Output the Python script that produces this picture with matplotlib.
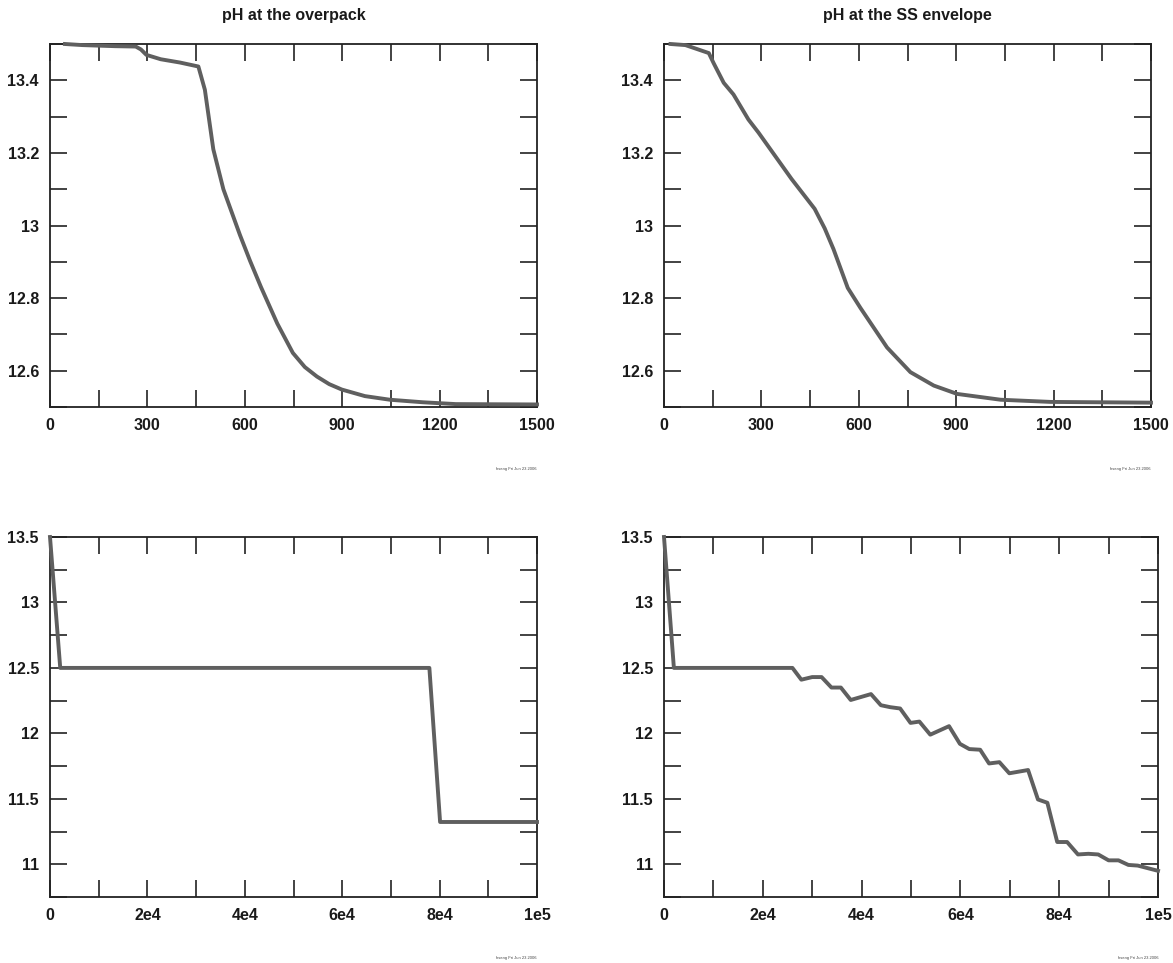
import matplotlib
matplotlib.use("Agg")
import matplotlib.pyplot as plt
import numpy as np

plt.rcParams['font.family'] = ['Liberation Sans', 'DejaVu Sans']

# ---- data ----
titles = ["pH at the overpack", "pH at the SS envelope"]

t_over = [46, 100, 200, 264, 280, 297, 341, 400, 457, 477, 503, 534, 585, 616, 650, 700,
          748, 785, 822, 860, 899, 970, 1047, 1149, 1250, 1500]
ph_over = [13.50, 13.497, 13.494, 13.493, 13.485, 13.47, 13.458, 13.449, 13.438, 13.374,
           13.21, 13.10, 12.974, 12.903, 12.83, 12.73, 12.649, 12.61, 12.584, 12.563,
           12.548, 12.53, 12.52, 12.513, 12.508, 12.507]

t_ss = [20, 66, 138, 153, 184, 214, 260, 291, 393, 464, 495, 522, 566, 605, 687, 759,
        831, 903, 1037, 1191, 1500]
ph_ss = [13.50, 13.497, 13.475, 13.447, 13.393, 13.361, 13.292, 13.256, 13.128, 13.046,
         12.992, 12.935, 12.828, 12.773, 12.664, 12.596, 12.559, 12.536, 12.52, 12.514,
         12.512]

tl_over = [0, 2100, 77900, 80100, 100000]
phl_over = [13.5, 12.5, 12.5, 11.323, 11.323]

tl_ss = [0, 2000, 26000, 27800, 30000, 31900, 33900, 35800, 37800, 41900, 43900, 45800,
         47800, 49900, 51700, 53900, 57700, 59900, 61800, 64000, 65800, 67900, 69900,
         73700, 75700, 77600, 79600, 81600, 83800, 85900, 87900, 90000, 92000, 94000,
         95900, 100000]
phl_ss = [13.5, 12.5, 12.5, 12.41, 12.43, 12.43, 12.35, 12.35, 12.255, 12.30, 12.215,
          12.20, 12.19, 12.08, 12.09, 11.99, 12.055, 11.92, 11.88, 11.875, 11.77, 11.78,
          11.695, 11.72, 11.495, 11.47, 11.17, 11.17, 11.075, 11.08, 11.075, 11.03, 11.03,
          10.995, 10.99, 10.95]

xt_short = np.arange(0, 1501, 150)
xl_short = ["0", "", "300", "", "600", "", "900", "", "1200", "", "1500"]
yt_short = np.round(np.arange(12.5, 13.51, 0.1), 2)
yl_short = ["", "12.6", "", "12.8", "", "13", "", "13.2", "", "13.4", ""]

xt_long = np.arange(0, 100001, 10000)
xl_long = ["0", "", "2e4", "", "4e4", "", "6e4", "", "8e4", "", "1e5"]
yt_long = np.arange(10.75, 13.51, 0.25)
yl_long = ["", "11", "", "11.5", "", "12", "", "12.5", "", "13", "", "13.5"]

stamp = "hseng Fri Jun 23 2006"

W, H = 1173, 963
fig = plt.figure(figsize=(W / 100, H / 100), dpi=100)


def make_ax(l, r, t, b):
    return fig.add_axes([l / W, 1 - b / H, (r - l) / W, (b - t) / H])


line_col = "#5f5f5f"
txt_col = "#1a1a1a"


def style(ax, xt, xl, yt, yl, xlim, ylim):
    ax.set_xlim(*xlim)
    ax.set_ylim(*ylim)
    ax.set_xticks(xt)
    ax.set_xticklabels(xl)
    ax.set_yticks(yt)
    ax.set_yticklabels(yl)
    ax.tick_params(direction="in", length=12, width=1.2, top=True, right=True,
                   labelsize=11.5, colors="#222222", pad=8)
    for lab in ax.get_xticklabels() + ax.get_yticklabels():
        lab.set_fontweight("bold")
        lab.set_color(txt_col)
    for s in ax.spines.values():
        s.set_linewidth(1.3)
        s.set_color("#222222")


boxes = [(50, 537, 44, 407), (664, 1151, 44, 407), (50, 537, 537, 897), (664, 1158, 537, 897)]
series = [(t_over, ph_over), (t_ss, ph_ss), (tl_over, phl_over), (tl_ss, phl_ss)]

for i, (box, (xs, ys)) in enumerate(zip(boxes, series)):
    ax = make_ax(*box)
    ax.plot(xs, ys, color=line_col, lw=2.8, clip_on=False, solid_joinstyle="round",
            zorder=3)
    if i < 2:
        style(ax, xt_short, xl_short, yt_short, yl_short, (0, 1500), (12.5, 13.5))
        ax.set_title(titles[i], fontsize=11.5, fontweight="bold", color=txt_col, pad=17)
    else:
        style(ax, xt_long, xl_long, yt_long, yl_long, (0, 100000), (10.75, 13.5))
    ax.text(1.0, -0.17, stamp, transform=ax.transAxes, fontsize=3, color="#444444",
            ha="right", va="center")

fig.savefig("out.png", dpi=100)
